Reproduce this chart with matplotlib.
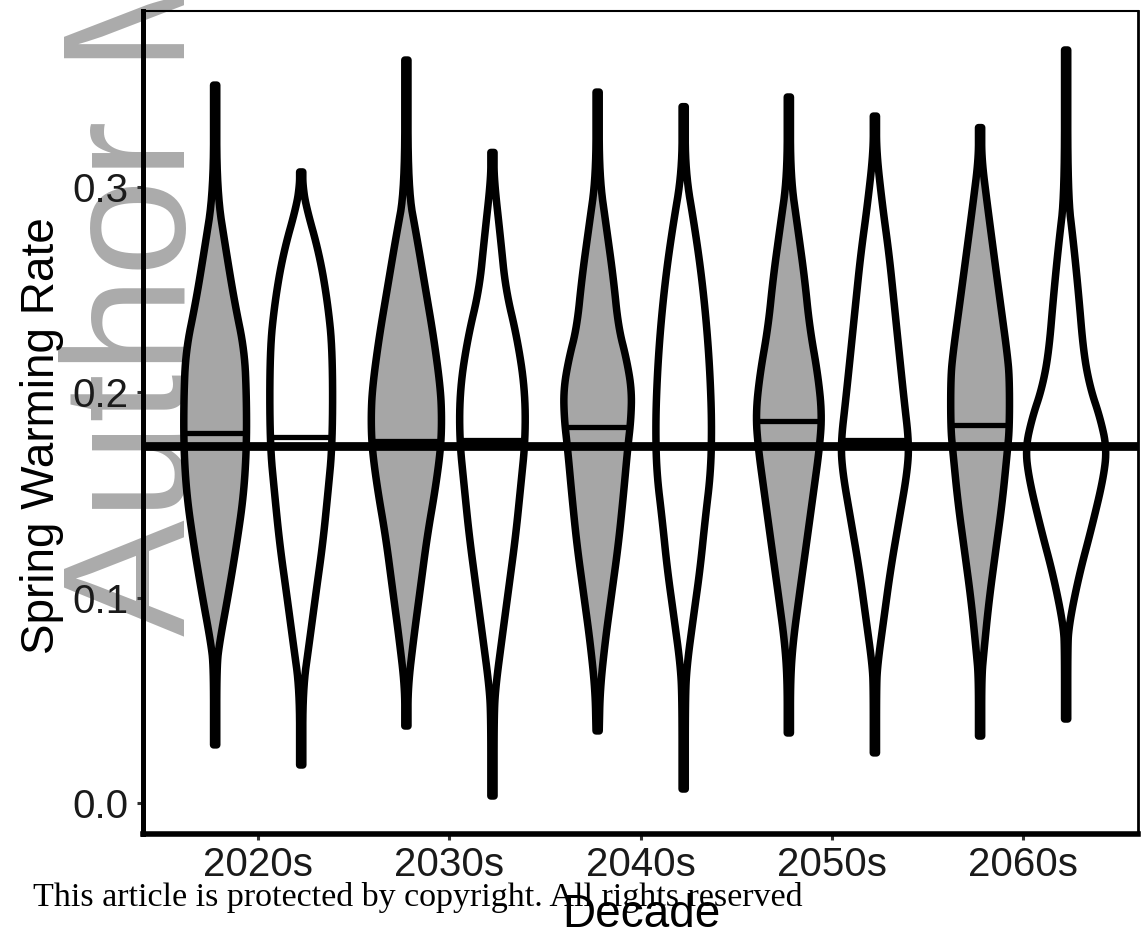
import numpy as np
import matplotlib
matplotlib.use("Agg")
import matplotlib.pyplot as plt

decades = ["2020s", "2030s", "2040s", "2050s", "2060s"]

# violin outlines: rate values (top -> bottom) and outer half widths
grey_y = [
    [0.3497, 0.2981, 0.2674, 0.2440, 0.2202, 0.1968, 0.1729, 0.1495, 0.1257, 0.1023, 0.0784, 0.0667, 0.0283],
    [0.3619, 0.2991, 0.2747, 0.2504, 0.2265, 0.2021, 0.1875, 0.1729, 0.1534, 0.1296, 0.1052, 0.0809, 0.0565, 0.0375],
    [0.3463, 0.3054, 0.2791, 0.2557, 0.2319, 0.2158, 0.2012, 0.1870, 0.1729, 0.1495, 0.1257, 0.1023, 0.0784, 0.0550, 0.0351],
    [0.3439, 0.3054, 0.2791, 0.2557, 0.2319, 0.2085, 0.1895, 0.1729, 0.1495, 0.1257, 0.1023, 0.0784, 0.0599, 0.0341],
    [0.3290, 0.3137, 0.2918, 0.2674, 0.2431, 0.2192, 0.2070, 0.1827, 0.1705, 0.1461, 0.1223, 0.0979, 0.0736, 0.0614, 0.0326],
]
grey_w = [
    [0, 5, 15, 23, 33, 35, 35, 32, 25, 17, 8, 4, 0],
    [0, 4.3, 14.3, 22.7, 31, 37.7, 39, 38, 32.7, 24.3, 17.7, 11, 4.3, 0],
    [0, 4.3, 12.7, 19.3, 24.3, 32.7, 37.7, 37, 33.7, 29.3, 24.3, 17.7, 11, 6, 0],
    [0, 4.3, 12.7, 19.3, 24.3, 32.7, 36.7, 34.3, 27.7, 21, 14.3, 7.7, 3.3, 0],
    [0, 4, 10.7, 17.3, 24, 30.7, 33, 33, 30.7, 25.7, 19, 12.3, 7.3, 4, 0],
]
white_y = [
    [0.3074, 0.3015, 0.2913, 0.2674, 0.2440, 0.2202, 0.1754, 0.1495, 0.1257, 0.1023, 0.0784, 0.0550, 0.0185],
    [0.3169, 0.3039, 0.2747, 0.2504, 0.2265, 0.2021, 0.1778, 0.1534, 0.1296, 0.1052, 0.0809, 0.0565, 0.0419, 0.0034],
    [0.3392, 0.3078, 0.2791, 0.2557, 0.2319, 0.2085, 0.1846, 0.1612, 0.1378, 0.1140, 0.0906, 0.0667, 0.0502, 0.0068],
    [0.3346, 0.3171, 0.2913, 0.2674, 0.2440, 0.2202, 0.1968, 0.1754, 0.1612, 0.1378, 0.1140, 0.0906, 0.0667, 0.0550, 0.0244],
    [0.3668, 0.2966, 0.2723, 0.2479, 0.2192, 0.2021, 0.1875, 0.1729, 0.1583, 0.1344, 0.1101, 0.0857, 0.0736, 0.0409],
]
white_w = [
    [0, 5, 8, 21.7, 30, 35, 35, 30, 25, 18.3, 11.7, 5, 0],
    [0, 3.3, 11.7, 16.7, 28.3, 36, 36.7, 31.7, 26.7, 20, 13.3, 6.7, 3.3, 0],
    [0, 5, 15, 21.7, 26.7, 30, 31.7, 30.7, 25, 20, 13.3, 6.7, 3.3, 0],
    [0, 4.3, 11, 17.7, 22.7, 27.7, 32.7, 37.7, 36, 27.7, 19.3, 12.7, 6, 3.3, 0],
    [0, 4.3, 11, 16, 21, 27.7, 37.7, 44.3, 41, 29.3, 16, 6, 3.3, 0],
]
grey_med = [0.1800, 0.1765, 0.1830, 0.1860, 0.1840]
white_med = [0.1785, 0.1770, 0.1745, 0.1770, 0.1735]
ref_line = 0.174

plt.rcParams['font.family'] = ['Liberation Sans', 'DejaVu Sans']

fig = plt.figure(figsize=(11.43, 9.40), dpi=100)
ax = fig.add_axes([0.1255, 0.1128, 0.8700, 0.8755])
ax.set_facecolor('none')

# watermark behind everything
fig.text(185/1143, 1-636/940, "Author Manuscript", rotation=90, rotation_mode='anchor',
         ha='left', va='baseline', fontsize=126, color='#ababab', zorder=-5)


def chaikin(y, w, n=3):
    # corner cutting so the outline reads as a curve, ends kept
    p = np.column_stack([y, w])
    for _ in range(n):
        q = 0.75 * p[:-1] + 0.25 * p[1:]
        r = 0.25 * p[:-1] + 0.75 * p[1:]
        mid = np.empty((2 * len(q), 2))
        mid[0::2] = q
        mid[1::2] = r
        p = np.vstack([p[:1], mid, p[-1:]])
    return p[:, 0], p[:, 1]


def violin(xc, ys, ws, face, med):
    hw = np.clip(np.asarray(ws, float) - 3.5, 1.6, None) / 192.0
    ys, hw = chaikin(np.asarray(ys, float), hw)
    xs = np.concatenate([xc + hw, (xc - hw)[::-1]])
    yy = np.concatenate([ys, ys[::-1]])
    ax.fill(xs, yy, facecolor=face, edgecolor='black', lw=5.4, joinstyle='round', zorder=2)
    m = np.interp(med, ys[::-1], hw[::-1])
    ax.plot([xc - m, xc + m], [med, med], color='black', lw=3.8,
            solid_capstyle='butt', zorder=3)


for i in range(len(decades)):
    violin(i - 0.225, grey_y[i], grey_w[i], '#a6a6a6', grey_med[i])
    violin(i + 0.225, white_y[i], white_w[i], 'white', white_med[i])

ax.axhline(ref_line, color='black', lw=6.3, zorder=4)

ax.set_xlim(-0.6, 4.6)
ax.set_ylim(-0.0151, 0.3858)
ax.set_xticks(range(len(decades)))
ax.set_xticklabels(decades)
ax.set_yticks([0.0, 0.1, 0.2, 0.3])
ax.set_yticklabels(["0.0", "0.1", "0.2", "0.3"])
ax.tick_params(axis='both', length=4, width=2.2, color='#333333', labelsize=29,
               labelcolor='#1a1a1a')
ax.tick_params(axis='y', pad=7)
ax.tick_params(axis='x', pad=5)

ax.spines['left'].set_linewidth(3.6)
ax.spines['bottom'].set_linewidth(4.0)
ax.spines['top'].set_linewidth(1.5)
ax.spines['right'].set_linewidth(2.0)

fig.text(42/1143, 1-436/940, "Spring Warming Rate", rotation=90, ha='center', va='center',
         fontsize=33, color='black')
fig.text(641/1143, 1-915/940, "Decade", ha='center', va='center', fontsize=33, color='black')
fig.text(33/1143, 1-906/940, "This article is protected by copyright. All rights reserved",
         ha='left', va='baseline', fontsize=24.5, family=['Liberation Serif', 'DejaVu Serif'],
         color='black', zorder=10)

fig.savefig("out.png", dpi=100)
